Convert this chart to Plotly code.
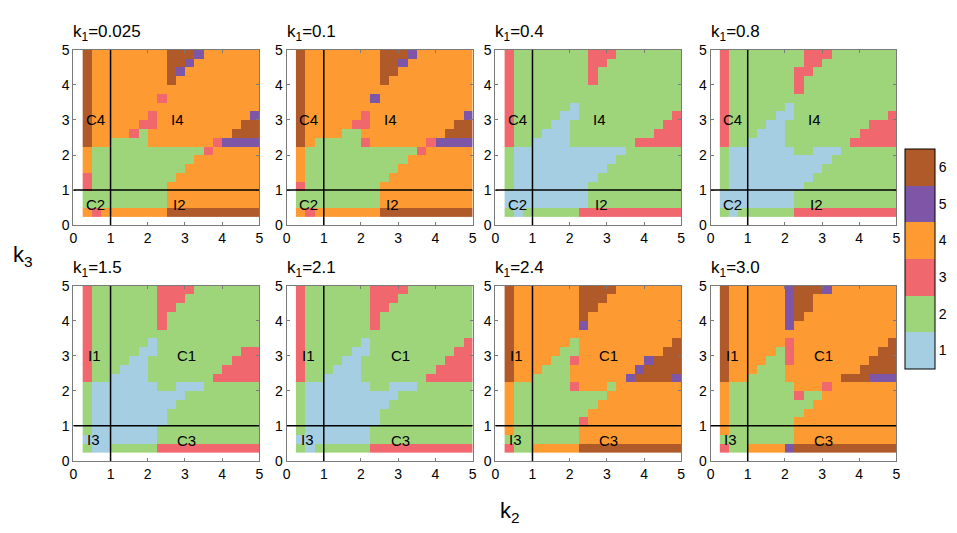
import plotly.graph_objects as go

# k1 value of each panel (left to right, top row then bottom row)
k1_labels = ["0.025", "0.1", "0.4", "0.8", "1.5", "2.1", "2.4", "3.0"]

# cell centres along k2 and k3
k2_values = [0.375, 0.625, 0.875, 1.125, 1.375, 1.625, 1.875, 2.125, 2.375, 2.625,
             2.875, 3.125, 3.375, 3.625, 3.875, 4.125, 4.375, 4.625, 4.875]
k3_values = [0.375, 0.625, 0.875, 1.125, 1.375, 1.625, 1.875, 2.125, 2.375, 2.625,
             2.875, 3.125, 3.375, 3.625, 3.875, 4.125, 4.375, 4.625, 4.875]

# class of each cell, top row (k3 = 5) first, one digit per k2 column
grid_0025 = [
    "6444444446665444444", "6444444446654444444", "6444444446544444444",
    "6444444446444444444", "6444444444444444444", "6444444434444444444",
    "6444444444444444444", "6444444344444444445", "6444443344444444466",
    "6444432444444444666", "6442222444444435555", "4222222222222344444",
    "4222222222224444444", "4222222222244444444", "3222222222444444444",
    "3222222224444444444", "2222222224444444444", "2222222224444444444",
    "4344444446666666666"]
grid_01 = [
    "6444444446665444444", "6444444446654444444", "6444444446644444444",
    "6444444446444444444", "6444444444444444444", "6444444454444444444",
    "6444444444444444444", "6444444344444444445", "6444443344444444466",
    "6444422444444444666", "6422222344444435555", "4222222222222344444",
    "4222222222224444444", "4222222222244444444", "4222222222444444444",
    "3222222224444444444", "2222222224444444444", "2222222224444444444",
    "4344444446666666666"]
grid_04 = [
    "3222222223332222222", "3222222223322222222", "3222222223222222222",
    "3222222223222222222", "3222222222222222222", "3222222222222222222",
    "3222222122222222222", "3222221122222222223", "3222211222222222233",
    "3222111222222222333", "3221111222222233333", "2111111111111222222",
    "2111111111112222222", "2111111111122222222", "2111111111222222222",
    "2111111112222222222", "1111111112222222222", "1111111112222222222",
    "2122222233333333333"]
grid_08 = [
    "3222222223332222222", "3222222223322222222", "3222222233222222222",
    "3222222232222222222", "3222222232222222222", "3222222222222222222",
    "3222222122222222222", "3222221122222222223", "3222211222222222333",
    "3222111222222223333", "3221111222222233333", "2111111122111222222",
    "2111111111112222222", "2111111111122222222", "2111111111222222222",
    "2111111112222222222", "1111111122222222222", "1111111122222222222",
    "2122222233333333333"]
grid_15 = [
    "3222222233332222222", "3222222233322222222", "3222222233222222222",
    "3222222232222222222", "3222222232222222222", "3222222222222222222",
    "3222222122222222222", "3222221122222222233", "3222211222222222333",
    "3222111222222223333", "3221111222222233333", "2111111122111222222",
    "2111111111122222222", "2111111111222222222", "2111111112222222222",
    "2111111112222222222", "2111111122222222222", "1111111122222222222",
    "2112222233333333333"]
grid_21 = [
    "3222222233332222222", "3222222233322222222", "3222222233222222222",
    "3222222232222222222", "3222222232222222222", "3222222222222222222",
    "3222222122222222223", "3222221122222222233", "3222211222222222333",
    "3222111222222223333", "3221111222222233333", "2111111122111222222",
    "2111111111122222222", "2111111111222222222", "2111111112222222222",
    "2111111112222222222", "2111111122222222222", "1111111122222222222",
    "2122222233333333333"]
grid_24 = [
    "6444444466664444444", "6444444466644444444", "6444444466444444444",
    "6444444464444444444", "6444444454444444444", "6444444444444444444",
    "6444444244444444446", "6444442244444444466", "6444422344444445666",
    "6444222444444456666", "6442222444444566665", "4222222344424444444",
    "4222222222244444444", "4222222222444444444", "4222222224444444444",
    "4222222234444444444", "4222222244444444444", "2222222244444444444",
    "3224444466666666666"]
grid_30 = [
    "6444444566654444444", "6444444566444444444", "6444444566444444444",
    "6444444564444444444", "6444444544444444444", "6444444444444444444",
    "6444444344444444446", "6444442344444444466", "6444422344444444666",
    "6444222444444446666", "6442222444444666555", "4222222244434444444",
    "4222222232244444444", "4222222222444444444", "4222222224444444444",
    "4222222244444444444", "4222222244444444444", "2222222244444444444",
    "3224444566666666666"]

grids = [grid_0025, grid_01, grid_04, grid_08, grid_15, grid_21, grid_24, grid_30]

# region names written in each panel: (text, k2, k3)
top_regions = [("C4", 0.6, 3.0), ("I4", 2.8, 3.0), ("C2", 0.6, 0.6), ("I2", 2.85, 0.6)]
bottom_regions = [("I1", 0.58, 3.0), ("C1", 3.05, 3.0), ("I3", 0.55, 0.6), ("C3", 3.05, 0.58)]

class_colors = ["#a6cee3", "#9ed57b", "#f0676d", "#fd9a31", "#7e56a8", "#b05a29"]
class_ticks = [1, 2, 3, 4, 5, 6]

FONT = "Liberation Sans, Arial, sans-serif"

colorscale = []
for i, c in enumerate(class_colors):
    colorscale.append([i / 6, c])
    colorscale.append([(i + 1) / 6, c])

xdomains = [[0.0731, 0.2690], [0.2978, 0.4937], [0.5177, 0.7136], [0.7445, 0.9404]]
ydomains = [[0.580, 0.919], [0.124, 0.463]]

fig = go.Figure()
layout = dict(width=957, height=533, margin=dict(l=0, r=0, t=0, b=0),
              paper_bgcolor="white", plot_bgcolor="white", showlegend=False,
              font=dict(family=FONT, size=14, color="black"))
annotations = []
shapes = []

for i, grid in enumerate(grids):
    n = i + 1
    xa = "x" if n == 1 else "x%d" % n
    ya = "y" if n == 1 else "y%d" % n
    z = [[int(ch) for ch in row] for row in grid[::-1]]
    fig.add_trace(go.Heatmap(
        x=k2_values, y=k3_values, z=z, xaxis=xa, yaxis=ya,
        zmin=0.5, zmax=6.5, colorscale=colorscale,
        showscale=(i == len(grids) - 1), hoverinfo="skip",
        colorbar=dict(x=0.9495, xanchor="left", xpad=0,
                      y=1 - 145 / 533, yanchor="top", ypad=0,
                      len=220, lenmode="pixels", thickness=30,
                      outlinecolor="black", outlinewidth=1,
                      tickvals=class_ticks, ticks="",
                      tickfont=dict(size=14, family=FONT, color="black"))))

    row, col = divmod(i, 4)
    axis_style = dict(range=[0, 5], tickvals=[0, 1, 2, 3, 4, 5], showgrid=False,
                      zeroline=False, showline=True, linecolor="#7a7a7a",
                      linewidth=1, mirror="ticks", ticks="inside", ticklen=3,
                      tickcolor="#7a7a7a", tickfont=dict(size=14, color="black"),
                      fixedrange=True)
    layout["xaxis" if n == 1 else "xaxis%d" % n] = dict(
        axis_style, domain=xdomains[col], anchor=ya)
    layout["yaxis" if n == 1 else "yaxis%d" % n] = dict(
        axis_style, domain=ydomains[row], anchor=xa)

    annotations.append(dict(
        text="k<sub>1</sub>=" + k1_labels[i], xref="paper", yref="paper",
        x=xdomains[col][0] - 0.002, y=ydomains[row][1], xanchor="left",
        yanchor="bottom", yshift=4, showarrow=False, font=dict(size=17)))
    for name, px_, py_ in (top_regions if row == 0 else bottom_regions):
        annotations.append(dict(text=name, x=px_, y=py_, xref=xa, yref=ya,
                                showarrow=False, font=dict(size=15)))

    shapes.append(dict(type="line", xref=xa, yref=ya, x0=1, x1=1, y0=0, y1=5,
                       line=dict(color="black", width=1.5)))
    shapes.append(dict(type="line", xref=xa, yref=ya, x0=0, x1=5, y0=1, y1=1,
                       line=dict(color="black", width=1.5)))

annotations.append(dict(text="k<sub>3</sub>", xref="paper", yref="paper",
                        x=0.0073, xanchor="left", y=0.52, showarrow=False,
                        font=dict(size=22)))
annotations.append(dict(text="k<sub>2</sub>", xref="paper", yref="paper",
                        x=0.533, y=-0.006, showarrow=False, font=dict(size=22)))

layout["annotations"] = annotations
layout["shapes"] = shapes
fig.update_layout(**layout)

# drop the page's default body margin so the figure sits at the window's corner
fig.write_html("out.html", config={"displayModeBar": False},
               post_script="document.body.style.margin='0px';")
